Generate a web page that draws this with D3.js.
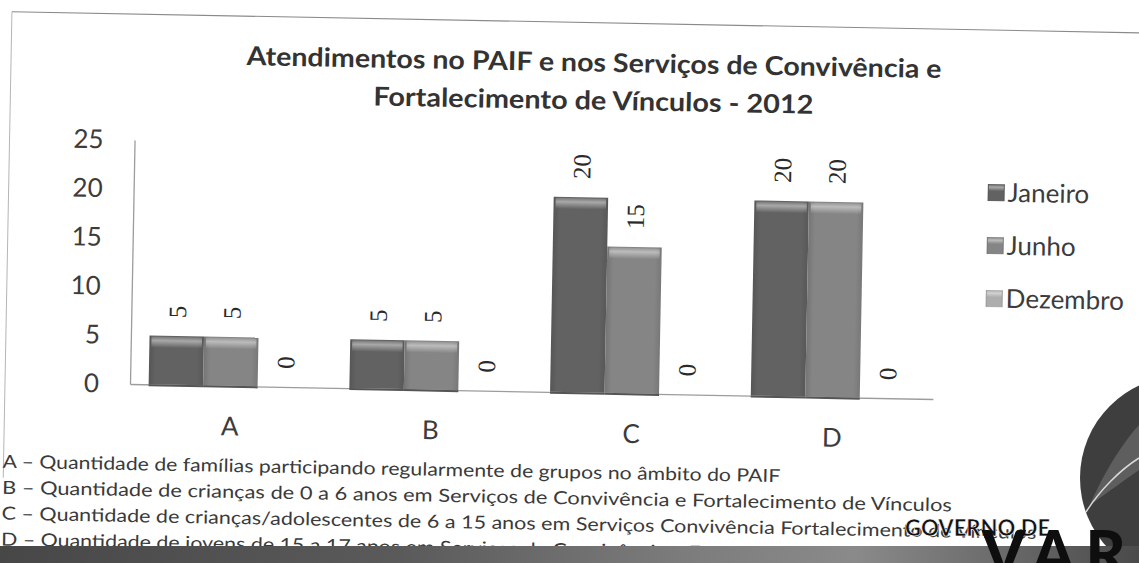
<!DOCTYPE html>
<html>
<head>
<meta charset="utf-8">
<script src="https://cdn.jsdelivr.net/npm/d3@7"></script>
<style>
  body { margin: 0; background: #fff; }
  svg { display: block; }
</style>
</head>
<body>
<svg id="chart" width="1139" height="563"></svg>
<script>
const categories = ["A", "B", "C", "D"];
const seriesNames = ["Janeiro", "Junho", "Dezembro"];
const janeiro = [5, 5, 20, 20];
const junho = [5, 5, 15, 20];
const dezembro = [0, 0, 0, 0];
const yTicks = [0, 5, 10, 15, 20, 25];
const titleLines = [
  "Atendimentos no PAIF e nos Serviços de Convivência e",
  "Fortalecimento de Vínculos - 2012"
];
const notes = [
  "A – Quantidade de famílias participando regularmente de grupos no âmbito do PAIF",
  "B – Quantidade de crianças de 0 a 6 anos em Serviços de Convivência e Fortalecimento de Vínculos",
  "C – Quantidade de crianças/adolescentes de 6 a 15 anos em Serviços Convivência Fortalecimento de Vínculos",
  "D – Quantidade de jovens de 15 a 17 anos em Serviços de Convivência e Fortalecimento de Vínculos"
];

const colors = ["#626262", "#858585", "#adadad"];
const svg = d3.select("#chart");
const values = [janeiro, junho, dezembro];

// the scan is a little tilted, so the page content is drawn in a rotated group
const page = svg.append("g").attr("transform", "rotate(1.07,130,384)");

const defs = svg.append("defs");
colors.forEach(function(c, j) {
  const body = defs.append("linearGradient").attr("id", "body" + j)
    .attr("x1", 0).attr("x2", 1).attr("y1", 0).attr("y2", 0);
  body.append("stop").attr("offset", 0).attr("stop-color", d3.color(c).darker(0.35));
  body.append("stop").attr("offset", 0.12).attr("stop-color", c);
  body.append("stop").attr("offset", 0.88).attr("stop-color", c);
  body.append("stop").attr("offset", 1).attr("stop-color", d3.color(c).darker(0.3));
});
const hl = defs.append("linearGradient").attr("id", "hl")
  .attr("x1", 0).attr("x2", 0).attr("y1", 0).attr("y2", 1);
hl.append("stop").attr("offset", 0).attr("stop-color", "#fff").attr("stop-opacity", 0.15);
hl.append("stop").attr("offset", 0.35).attr("stop-color", "#fff").attr("stop-opacity", 0.45);
hl.append("stop").attr("offset", 1).attr("stop-color", "#fff").attr("stop-opacity", 0);

const bannerGrad = defs.append("linearGradient").attr("id", "banner")
  .attr("x1", 0).attr("x2", 1).attr("y1", 0).attr("y2", 0);
[[0, "#474747"], [0.35, "#5a5a5a"], [0.6, "#7c7c7c"], [0.75, "#8a8a8a"], [0.88, "#6a6a6a"], [1, "#4a4a4a"]]
  .forEach(function(s) { bannerGrad.append("stop").attr("offset", s[0]).attr("stop-color", s[1]); });

// frame lines of the scanned page
page.append("line").attr("x1", 5).attr("x2", 1160).attr("y1", 14).attr("y2", 14)
  .attr("stroke", "#8a8a8a").attr("stroke-width", 1.2);
page.append("line").attr("x1", 5).attr("x2", 5).attr("y1", 14).attr("y2", 480)
  .attr("stroke", "#b5b5b5").attr("stroke-width", 1);

// title
page.selectAll("text.title")
  .data(titleLines)
  .enter().append("text")
    .attr("class", "title")
    .attr("x", 588)
    .attr("y", function(d, i) { return 63 + i * 38; })
    .attr("text-anchor", "middle")
    .attr("textLength", function(d, i) { return i === 0 ? 695 : 440; })
    .attr("lengthAdjust", "spacingAndGlyphs")
    .style("font-family", "Lato, sans-serif")
    .style("font-weight", "bold")
    .style("font-size", "26px")
    .style("fill", "#333")
    .text(function(d) { return d; });

// scales
const x0 = d3.scaleBand().domain(categories).range([130, 933]);
const x1 = d3.scaleBand().domain(seriesNames).range([0, x0.bandwidth()]).paddingOuter(0.342);
const y = d3.scaleLinear().domain([0, 25]).range([384, 140]);

// axes
const yAxis = page.append("g")
  .attr("transform", "translate(130,0)")
  .call(d3.axisLeft(y).tickValues(yTicks).tickSize(0).tickSizeOuter(0).tickPadding(31));
const xAxis = page.append("g")
  .attr("transform", "translate(0,384)")
  .call(d3.axisBottom(x0).tickSize(0).tickSizeOuter(0).tickPadding(31));
[yAxis, xAxis].forEach(function(a) {
  a.select(".domain").attr("stroke", "#9c9c9c").attr("stroke-width", 1.3);
  a.selectAll("text")
    .style("font-family", "Lato, sans-serif")
    .style("font-size", "26px")
    .style("fill", "#3c3c3c");
});

// bars
const rows = categories.map(function(c, i) {
  return { cat: c, vals: seriesNames.map(function(s, j) { return { s: s, j: j, v: values[j][i] }; }) };
});
const group = page.selectAll("g.cat")
  .data(rows)
  .enter().append("g")
    .attr("class", "cat")
    .attr("transform", function(d) { return "translate(" + x0(d.cat) + ",0)"; });

const bar = group.selectAll("g.bar")
  .data(function(d) { return d.vals; })
  .enter().append("g")
    .attr("class", "bar")
    .attr("transform", function(d) { return "translate(" + x1(d.s) + ",0)"; });

const filled = bar.filter(function(d) { return d.v > 0; });
filled.append("rect")
  .attr("y", function(d) { return y(d.v); })
  .attr("width", x1.bandwidth())
  .attr("height", function(d) { return y(0) - y(d.v); })
  .attr("fill", function(d) { return "url(#body" + d.j + ")"; });

filled.append("rect")
  .attr("x", 2)
  .attr("y", function(d) { return y(d.v) + 1; })
  .attr("width", x1.bandwidth() - 4)
  .attr("height", 11)
  .attr("fill", "url(#hl)");

filled.append("line")
  .attr("x1", 0).attr("x2", x1.bandwidth())
  .attr("y1", y(0) + 1).attr("y2", y(0) + 1)
  .attr("stroke", "#555").attr("stroke-width", 2);

// data labels, rotated
bar.append("text")
  .attr("transform", function(d) {
    return "translate(" + (x1.bandwidth() / 2) + "," + (y(d.v) - 18) + ") rotate(-90)";
  })
  .attr("dy", "0.36em")
  .style("font-family", "'Liberation Serif', serif")
  .style("font-size", "25px")
  .style("fill", "#2a2a2a")
  .text(function(d) { return d.v; });

// legend
const legend = page.selectAll("g.legend")
  .data(seriesNames)
  .enter().append("g")
    .attr("class", "legend")
    .attr("transform", function(d, i) { return "translate(984," + (176 + i * 53) + ")"; });
legend.append("rect")
  .attr("x", 0).attr("y", -8).attr("width", 17).attr("height", 17)
  .attr("fill", function(d, i) { return "url(#body" + i + ")"; });
legend.append("rect")
  .attr("x", 1).attr("y", -7).attr("width", 15).attr("height", 6)
  .attr("fill", "url(#hl)");
legend.append("text")
  .attr("x", 20)
  .attr("dy", "0.36em")
  .style("font-family", "Lato, sans-serif")
  .style("font-size", "26px")
  .style("fill", "#3c3c3c")
  .text(function(d) { return d; });

// footnotes
page.selectAll("text.note")
  .data(notes)
  .enter().append("text")
    .attr("class", "note")
    .attr("x", 4)
    .attr("y", function(d, i) { return 470 + i * 26; })
    .attr("textLength", function(d, i) { return [778, 950, 1035, 942][i]; })
    .attr("lengthAdjust", "spacingAndGlyphs")
    .style("font-family", "Lato, sans-serif")
    .style("font-size", "18px")
    .style("fill", "#3a3a3a")
    .text(function(d) { return d; });

// logo overlay at the bottom right (not part of the tilted page)
const logo = svg.append("g");
logo.append("circle").attr("cx", 1182).attr("cy", 478).attr("r", 102).attr("fill", "#3e3e3e");
logo.append("path")
  .attr("d", "M1090,505 C1105,470 1125,440 1139,425 L1139,470 C1125,480 1108,492 1090,505 Z")
  .attr("fill", "#5e5e5e");
logo.append("path")
  .attr("d", "M1086,512 C1100,490 1120,470 1139,458")
  .attr("stroke", "#d8d8d8").attr("stroke-width", 1.5).attr("fill", "none");
logo.append("rect").attr("x", 0).attr("y", 546).attr("width", 1139).attr("height", 17)
  .attr("fill", "url(#banner)");
logo.append("text")
  .attr("x", 905).attr("y", 536)
  .style("font-family", "Lato, sans-serif")
  .style("font-weight", "900")
  .style("font-size", "22px")
  .style("fill", "#111")
  .style("stroke", "#fff").style("stroke-width", 0.6)
  .text("GOVERNO DE");
logo.append("text")
  .attr("x", 982).attr("y", 576)
  .attr("letter-spacing", 10)
  .style("font-family", "Lato, sans-serif")
  .style("font-weight", "900")
  .style("font-size", "62px")
  .style("fill", "#0e0e0e")
  .text("VARJ");
</script>
</body>
</html>
